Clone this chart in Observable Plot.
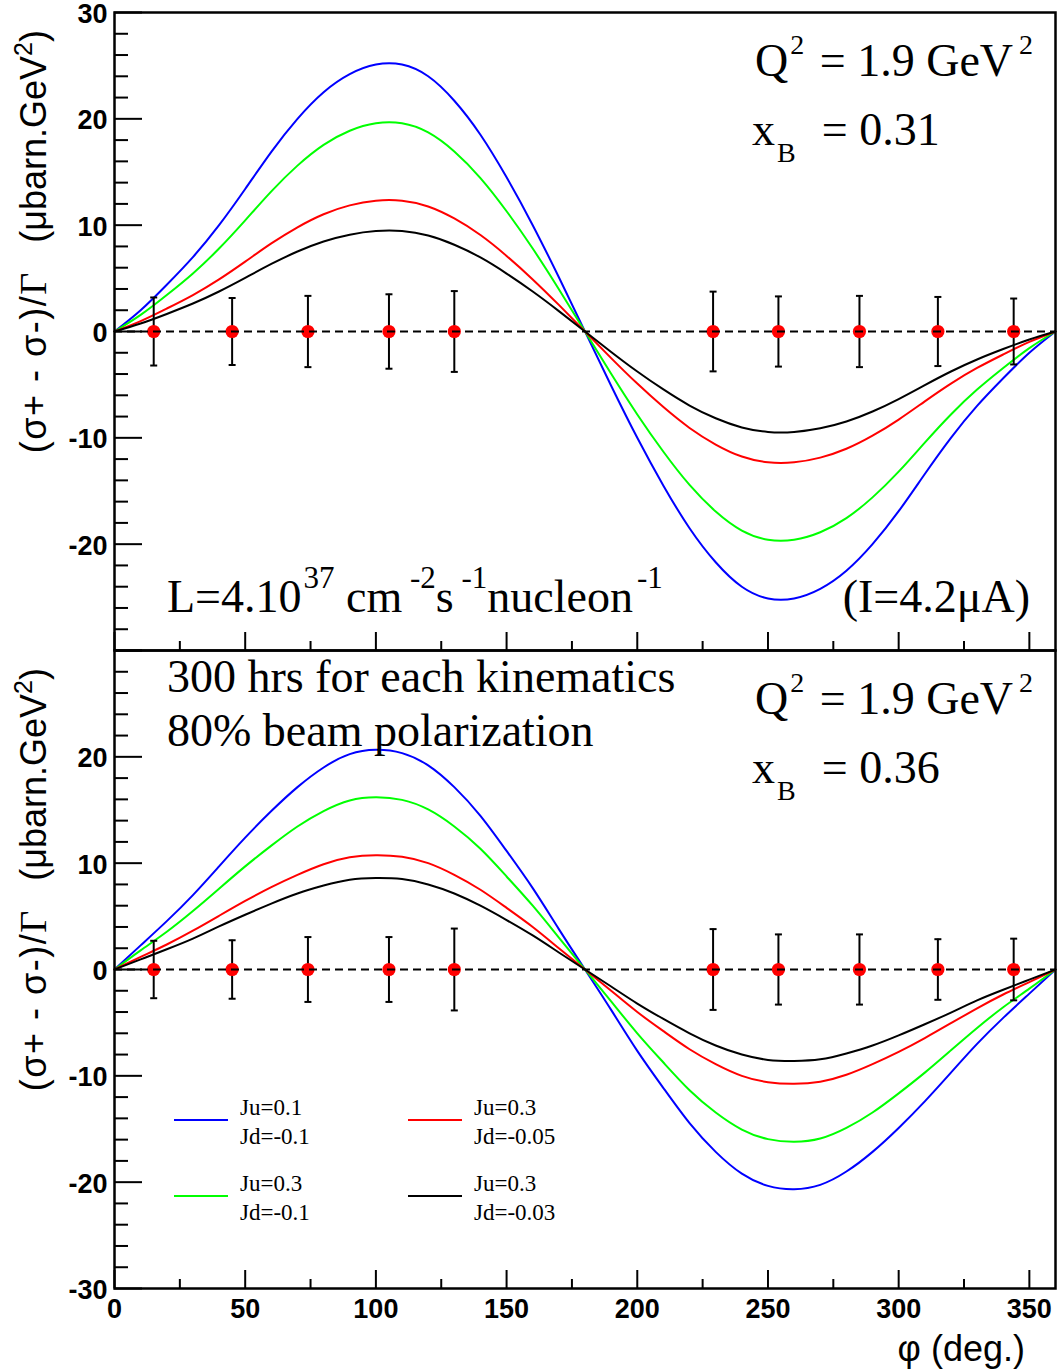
<!DOCTYPE html>
<html><head><meta charset="utf-8">
<script src="https://cdn.jsdelivr.net/npm/d3@7"></script>
<script src="https://cdn.jsdelivr.net/npm/@observablehq/plot@0.6"></script>
<style>
body{margin:0;background:#fff;}
#chart{position:relative;width:1062px;height:1370px;overflow:hidden;background:#fff;}
#chart svg{position:absolute;left:0;}
</style></head><body><div id="chart"></div>
<script>
// ---------- data ----------
const phi = [0,10,20,30,40,50,60,70,80,90,100,110,120,130,140,150,160,170,180,190,200,210,220,230,240,250,260,270,280,290,300,310,320,330,340,350,360];

// top panel (xB = 0.31)
const topBlue  = [0,2.0,4.4,7.0,10.0,13.4,16.9,20.0,22.5,24.2,25.1,25.1,24.0,21.7,18.5,14.5,10.0,5.1,0,-5.1,-10.0,-14.5,-18.5,-21.7,-24.0,-25.1,-25.1,-24.2,-22.5,-20.0,-16.9,-13.4,-10.0,-7.0,-4.4,-2.0,0];
const topGreen = [0,1.56,3.43,5.46,7.8,10.45,13.18,15.6,17.55,18.88,19.58,19.58,18.72,16.93,14.43,11.31,7.8,3.98,0,-3.98,-7.8,-11.31,-14.43,-16.93,-18.72,-19.58,-19.58,-18.88,-17.55,-15.6,-13.18,-10.45,-7.8,-5.46,-3.43,-1.56,0];
const topRed   = [0,0.98,2.16,3.43,4.9,6.57,8.28,9.8,11.03,11.86,12.3,12.3,11.76,10.63,9.07,7.11,4.9,2.5,0,-2.5,-4.9,-7.11,-9.07,-10.63,-11.76,-12.3,-12.3,-11.86,-11.03,-9.8,-8.28,-6.57,-4.9,-3.43,-2.16,-0.98,0];
const topBlack = [0,0.75,1.65,2.63,3.76,5.04,6.35,7.52,8.46,9.1,9.44,9.44,9.02,8.16,6.96,5.45,3.76,1.92,0,-1.92,-3.76,-5.45,-6.96,-8.16,-9.02,-9.44,-9.44,-9.1,-8.46,-7.52,-6.35,-5.04,-3.76,-2.63,-1.65,-0.75,0];

// bottom panel (xB = 0.36)
const botBlue  = [0,2.27,4.55,7.0,9.7,12.4,14.9,17.15,19.0,20.25,20.66,20.35,19.2,17.15,14.45,11.15,7.65,3.8,0,-3.8,-7.65,-11.15,-14.45,-17.15,-19.2,-20.35,-20.66,-20.25,-19.0,-17.15,-14.9,-12.4,-9.7,-7.0,-4.55,-2.27,0];
const botGreen = [0,1.8,3.55,5.5,7.6,9.7,11.65,13.45,14.9,15.9,16.2,15.95,15.05,13.45,11.35,8.75,6.0,3.0,0,-3.0,-6.0,-8.75,-11.35,-13.45,-15.05,-15.95,-16.2,-15.9,-14.9,-13.45,-11.65,-9.7,-7.6,-5.5,-3.55,-1.8,0];
const botRed   = [0,1.18,2.35,3.65,5.05,6.45,7.75,8.9,9.9,10.55,10.75,10.6,10.0,8.9,7.5,5.8,4.0,2.0,0,-2.0,-4.0,-5.8,-7.5,-8.9,-10.0,-10.6,-10.75,-10.55,-9.9,-8.9,-7.75,-6.45,-5.05,-3.65,-2.35,-1.18,0];
const botBlack = [0,0.95,1.9,2.9,4.05,5.15,6.2,7.15,7.9,8.45,8.6,8.5,8.0,7.15,6.0,4.65,3.2,1.6,0,-1.6,-3.2,-4.65,-6.0,-7.15,-8.0,-8.5,-8.6,-8.45,-7.9,-7.15,-6.2,-5.15,-4.05,-2.9,-1.9,-0.95,0];

// projected data points
const ptPhi    = [15,45,74,105,130,229,254,285,315,344];
const topPtVal = [0,0,0,0,0,0,0,0,0,0];
const topPtErr = [3.2,3.15,3.35,3.5,3.8,3.75,3.3,3.35,3.25,3.1];
const botPtVal = [0,0,0,0,0,0,0,0,0,0];
const botPtErr = [2.7,2.75,3.05,3.05,3.85,3.8,3.3,3.3,2.85,2.9];

// series labels / colors
const seriesJu = ["Ju=0.1","Ju=0.3","Ju=0.3","Ju=0.3"];
const seriesJd = ["Jd=-0.1","Jd=-0.1","Jd=-0.05","Jd=-0.03"];
const seriesColors = ["#0000ff","#00ff00","#ff0000","#000000"];

// axis ticks
const yMajor = [-30,-20,-10,0,10,20,30];
const yMinor = [-28,-26,-24,-22,-18,-16,-14,-12,-8,-6,-4,-2,2,4,6,8,12,14,16,18,22,24,26,28];
const yLabelsTop = [-20,-10,0,10,20,30];
const yLabelsBot = [-30,-20,-10,0,10,20];
const xMajor = [0,50,100,150,200,250,300,350];
const xMinor = [25,75,125,175,225,275,325];

// ---------- drawing ----------
const SANS = "'Liberation Sans', Arial, Helvetica, sans-serif";
const SERIF = "'Liberation Serif', 'Times New Roman', Times, serif";
const capSymbol = {draw(ctx) { ctx.moveTo(-3.5, 0); ctx.lineTo(3.5, 0); }};

function panelMarks(curves, vals, errs, yLabels, withXLabels) {
  const pts = ptPhi.map((p, i) => ({phi: p, v: vals[i], e: errs[i]}));
  const marks = [];
  curves.forEach((c, k) => {
    const rows = phi.map((p, i) => ({phi: p, v: c[i]}));
    marks.push(Plot.line(rows, {x: "phi", y: "v", stroke: seriesColors[k], strokeWidth: 2, curve: "natural"}));
  });
  marks.push(
    Plot.ruleX(pts, {x: "phi", y1: d => d.v - d.e, y2: d => d.v + d.e, stroke: "black", strokeWidth: 2}),
    Plot.dot(pts, {x: "phi", y: d => d.v + d.e, symbol: capSymbol, r: 4, stroke: "black", strokeWidth: 2, fill: "none"}),
    Plot.dot(pts, {x: "phi", y: d => d.v - d.e, symbol: capSymbol, r: 4, stroke: "black", strokeWidth: 2, fill: "none"}),
    Plot.dot(pts, {x: "phi", y: "v", r: 6.6, fill: "#ff0000", stroke: null}),
    Plot.ruleY([0], {stroke: "black", strokeWidth: 2, strokeDasharray: "8,5"}),
    Plot.axisY(yMajor, {anchor: "left", tickSize: 28, dx: 28, fill: "none", strokeWidth: 2, label: null}),
    Plot.axisY(yMinor, {anchor: "left", tickSize: 14, dx: 14, fill: "none", strokeWidth: 2, label: null}),
    Plot.axisY(yLabels, {anchor: "left", tickSize: 0, tickPadding: 7, dy: 2, tickFormat: d => String(d), fontSize: 27, fontWeight: "bold", label: null}),
    Plot.axisX(xMajor, {anchor: "bottom", tickSize: 18, dy: -18, fill: "none", strokeWidth: 2, label: null}),
    Plot.axisX(xMinor, {anchor: "bottom", tickSize: 9, dy: -9, fill: "none", strokeWidth: 2, label: null})
  );
  if (withXLabels) marks.push(Plot.axisX(xMajor, {anchor: "bottom", tickSize: 0, tickPadding: 10, tickFormat: d => String(d), fontSize: 27, fontWeight: "bold", label: null}));
  marks.push(Plot.frame({stroke: "black", strokeWidth: 2.5}));
  return marks;
}

const common = {
  width: 1062, marginLeft: 114, marginRight: 7,
  x: {domain: [0, 360]}, y: {domain: [-30, 30]},
  style: {fontFamily: SANS, background: "transparent", overflow: "visible", color: "black"}
};

const topSvg = Plot.plot({...common, height: 660, marginTop: 12, marginBottom: 10,
  marks: panelMarks([topBlue, topGreen, topRed, topBlack], topPtVal, topPtErr, yLabelsTop, false)});
const botSvg = Plot.plot({...common, height: 730, marginTop: 10, marginBottom: 82,
  marks: panelMarks([botBlue, botGreen, botRed, botBlack], botPtVal, botPtErr, yLabelsBot, true)});

const chart = document.getElementById("chart");
topSvg.style.top = "0px";
botSvg.style.top = "640px";
chart.appendChild(topSvg);
chart.appendChild(botSvg);

function rich(svg, x, y, parts, {size = 46, small = 28, anchor = "start", family = SERIF, sup = -22, sub = 17} = {}) {
  const t = d3.select(svg).append("text")
    .attr("x", x).attr("y", y).attr("font-size", size).attr("font-family", family)
    .attr("text-anchor", anchor).attr("fill", "black").style("white-space", "pre");
  let level = 0;
  for (const [s, kind, dx] of parts) {
    const target = kind === "sup" ? sup : kind === "sub" ? sub : 0;
    const ts = t.append("tspan").attr("dy", target - level).attr("font-size", kind ? small : size).text(s);
    if (dx) ts.attr("dx", dx);
    level = target;
  }
  return t;
}

// top annotations
rich(topSvg, 755, 76, [["Q"], ["2", "sup", 2], [" = 1.9 GeV", null, 4], ["2", "sup", 6]]);
rich(topSvg, 752, 145, [["x"], ["B", "sub", 2], ["  = 0.31", null, 3]]);
rich(topSvg, 167, 612, [["L=4.10"], ["37", "sup", 2], [" cm"], [" -2", "sup"], ["s"], [" -1", "sup"], ["nucleon"], ["-1", "sup", 4]], {small: 31, sup: -24});
rich(topSvg, 1030, 612, [["(I=4.2\u03bcA)"]], {anchor: "end"});

// bottom annotations (svg offset 640)
rich(botSvg, 167, 52, [["300 hrs for each kinematics"]]);
rich(botSvg, 167, 106, [["80% beam polarization"]]);
rich(botSvg, 755, 74, [["Q"], ["2", "sup", 2], [" = 1.9 GeV", null, 4], ["2", "sup", 6]]);
rich(botSvg, 752, 143, [["x"], ["B", "sub", 2], ["  = 0.36", null, 3]]);

// y titles
function yTitle(svg, x, y) {
  const t = d3.select(svg).append("text")
    .attr("transform", `translate(${x},${y}) rotate(-90)`)
    .attr("text-anchor", "end").attr("font-family", SANS).attr("font-size", 36)
    .attr("fill", "black").style("white-space", "pre");
  t.append("tspan").attr("letter-spacing", 1.5).text("(\u03c3+ - \u03c3-)/");
  t.append("tspan").attr("font-family", SERIF).attr("font-size", 38).text("\u0393");
  t.append("tspan").text("   (\u03bcbarn.GeV");
  t.append("tspan").attr("dy", -14).attr("font-size", 25).text("2");
  t.append("tspan").attr("dy", 14).text(")");
}
yTitle(topSvg, 46, 30);
yTitle(botSvg, 46, 28);

// x title
d3.select(botSvg).append("text").attr("x", 1025).attr("y", 721).attr("text-anchor", "end")
  .attr("font-family", SANS).attr("font-size", 36).attr("fill", "black").text("\u03c6 (deg.)");

// legend
const legendPos = [[174, 480], [174, 556], [408, 480], [408, 556]];
legendPos.forEach(([lx, ly], k) => {
  const g = d3.select(botSvg).append("g").attr("text-anchor", "start");
  g.append("line").attr("x1", lx).attr("x2", lx + 54).attr("y1", ly).attr("y2", ly)
    .attr("stroke", seriesColors[k]).attr("stroke-width", 2);
  g.append("text").attr("x", lx + 66).attr("y", ly - 5).attr("text-anchor", "start").attr("font-family", SERIF).attr("font-size", 23).attr("fill", "black").text(seriesJu[k]);
  g.append("text").attr("x", lx + 66).attr("y", ly + 24).attr("text-anchor", "start").attr("font-family", SERIF).attr("font-size", 23).attr("fill", "black").text(seriesJd[k]);
});
</script></body></html>
